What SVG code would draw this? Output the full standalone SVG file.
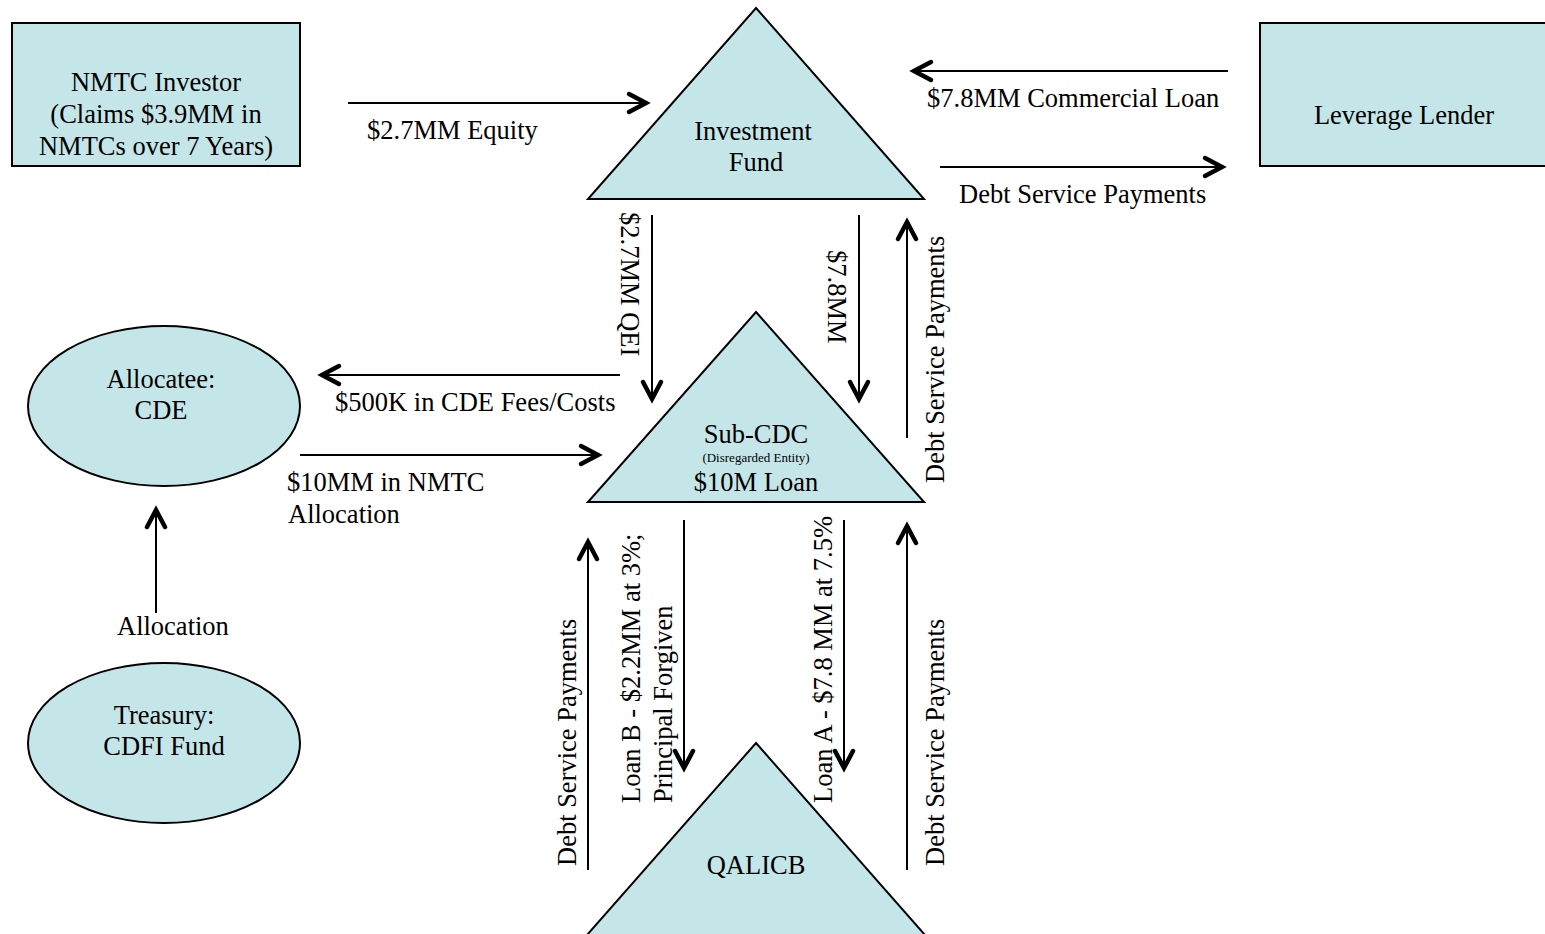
<svg xmlns="http://www.w3.org/2000/svg" width="1545" height="934" viewBox="0 0 1545 934">
<style>
.shape{fill:#C5E6E9;stroke:#000;stroke-width:2}
text{font-family:"Liberation Serif","Times New Roman",serif;font-size:26.5px;fill:#000}
.c{text-anchor:middle}
.small{font-size:13px}
.conn{stroke:#000;stroke-width:2;fill:none;marker-end:url(#arr)}
</style>
<defs>
<marker id="arr" markerUnits="userSpaceOnUse" markerWidth="40" markerHeight="40" refX="0" refY="0" orient="auto" overflow="visible" viewBox="-30 -20 40 40">
<path d="M-19,-9 L-2,0 L-19,9" fill="none" stroke="#000" stroke-width="4.5" stroke-linecap="round" stroke-linejoin="miter"/>
</marker>
</defs>
<rect width="1545" height="934" fill="#fff"/>

<g id="nmtc-investor">
<rect class="shape" x="12" y="23" width="288" height="143"/>
<text class="c" x="156" y="91">NMTC Investor</text>
<text class="c" x="156" y="123">(Claims $3.9MM in</text>
<text class="c" x="156" y="155">NMTCs over 7 Years)</text>
</g>

<g id="leverage-lender">
<rect class="shape" x="1260" y="23" width="300" height="143"/>
<text class="c" x="1404" y="124">Leverage Lender</text>
</g>

<g id="investment-fund">
<polygon class="shape" points="756,8 924,199 588,199"/>
<text class="c" x="753" y="140">Investment</text>
<text class="c" x="756" y="171">Fund</text>
</g>

<g id="sub-cdc">
<polygon class="shape" points="756,312 924,502 588,502"/>
<text class="c" x="756" y="443">Sub-CDC</text>
<text class="c small" x="756" y="462">(Disregarded Entity)</text>
<text class="c" x="756" y="491">$10M Loan</text>
</g>

<g id="qalicb">
<polygon class="shape" points="756,743 947,960 565,960"/>
<text class="c" x="756" y="874">QALICB</text>
</g>

<g id="allocatee-cde">
<ellipse class="shape" cx="164" cy="406" rx="136" ry="80"/>
<text class="c" x="161" y="388">Allocatee:</text>
<text class="c" x="161" y="419">CDE</text>
</g>

<g id="treasury-cdfi">
<ellipse class="shape" cx="164" cy="743" rx="136" ry="80"/>
<text class="c" x="164" y="724">Treasury:</text>
<text class="c" x="164" y="755">CDFI Fund</text>
</g>

<g id="connectors">
<line class="conn" x1="348" y1="103" x2="648" y2="103"/>
<text x="367" y="139">$2.7MM Equity</text>

<line class="conn" x1="1228" y1="71" x2="912" y2="71"/>
<text x="927" y="107">$7.8MM Commercial Loan</text>

<line class="conn" x1="940" y1="167" x2="1224" y2="167"/>
<text x="959" y="203">Debt Service Payments</text>

<line class="conn" x1="652" y1="215" x2="652" y2="401"/>
<text transform="translate(621,212) rotate(90)">$2.7MM QEI</text>

<line class="conn" x1="859" y1="215" x2="859" y2="401"/>
<text transform="translate(828,250) rotate(90)">$7.8MM</text>

<line class="conn" x1="907" y1="438" x2="907" y2="220"/>
<text transform="translate(944,483) rotate(-90)">Debt Service Payments</text>

<line class="conn" x1="620" y1="375" x2="320" y2="375"/>
<text x="335" y="411">$500K in CDE Fees/Costs</text>

<line class="conn" x1="300" y1="455" x2="600" y2="455"/>
<text x="287" y="491">$10MM in NMTC</text>
<text x="288" y="523">Allocation</text>

<line class="conn" x1="156" y1="613" x2="156" y2="508"/>
<text x="117" y="635">Allocation</text>

<line class="conn" x1="588" y1="870" x2="588" y2="540"/>
<text transform="translate(576,866) rotate(-90)">Debt Service Payments</text>

<line class="conn" x1="684" y1="520" x2="684" y2="770"/>
<text transform="translate(640,803) rotate(-90)">Loan B - $2.2MM at 3%;</text>
<text transform="translate(672,803) rotate(-90)">Principal Forgiven</text>

<line class="conn" x1="844" y1="520" x2="844" y2="770"/>
<text transform="translate(832,803) rotate(-90)">Loan A - $7.8 MM at 7.5%</text>

<line class="conn" x1="907" y1="870" x2="907" y2="524"/>
<text transform="translate(944,866) rotate(-90)">Debt Service Payments</text>
</g>
</svg>
